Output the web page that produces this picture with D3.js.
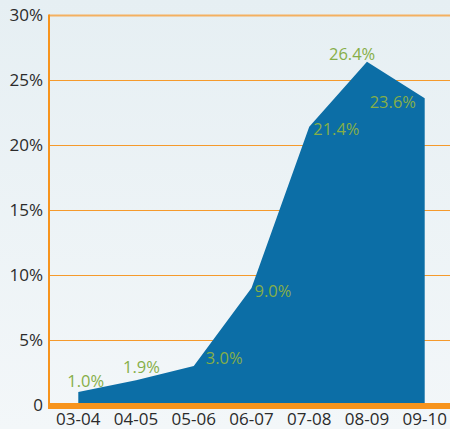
<!DOCTYPE html>
<html>
<head>
<meta charset="utf-8">
<script src="https://cdn.jsdelivr.net/npm/d3@7"></script>
<style>
  html, body { margin: 0; padding: 0; }
  body { width: 450px; height: 429px; overflow: hidden; }
  text { font-family: "Open Sans", sans-serif; }
</style>
</head>
<body>
<svg id="chart"></svg>
<script>
// chart values
var years = ["03-04", "04-05", "05-06", "06-07", "07-08", "08-09", "09-10"];
var shares = [1.0, 1.9, 3.0, 9.0, 21.4, 26.4, 23.6];
var yTicks = [0, 5, 10, 15, 20, 25, 30];
var yTickLabels = ["0", "5%", "10%", "15%", "20%", "25%", "30%"];

// where each value label sits relative to its point
var labelDx = [-11, -13, 12, 3, 4, -38, -55];
var labelDy = [-5, -7, -2, 9, 8, -2, 10];

var W = 450, H = 429;
var plotLeft = 49, plotTop = 15, plotBottom = 405;

var svg = d3.select("#chart").attr("width", W).attr("height", H);

var grad = svg.append("defs").append("linearGradient")
  .attr("id", "bg").attr("x1", 0).attr("y1", 0).attr("x2", 0).attr("y2", 1);
grad.append("stop").attr("offset", "0%").attr("stop-color", "#e6eff3");
grad.append("stop").attr("offset", "100%").attr("stop-color", "#f3f7f9");

svg.append("rect").attr("width", W).attr("height", H).attr("fill", "url(#bg)");

var x = d3.scalePoint().domain(years).range([78.3, 424.7]);
var y = d3.scaleLinear().domain([0, 30]).range([plotBottom, plotTop]);

// grid lines
svg.selectAll(".grid")
  .data(yTicks.filter(d => d > 0))
  .enter()
  .append("line")
  .attr("x1", plotLeft).attr("x2", W)
  .attr("y1", d => Math.round(y(d)) + 0.5).attr("y2", d => Math.round(y(d)) + 0.5)
  .attr("stroke", d => d == 30 ? "#f4b060" : "#f59a2c")
  .attr("stroke-width", d => d == 30 ? 2 : 1);

// area
var area = d3.area()
  .x((d, i) => x(years[i]))
  .y0(y(0) - 2)
  .y1(d => y(d));

svg.append("path")
  .datum(shares)
  .attr("d", area)
  .attr("fill", "#0c6ea6");

// y axis line
svg.append("line")
  .attr("x1", plotLeft).attr("x2", plotLeft)
  .attr("y1", y(30) - 0.5).attr("y2", y(0))
  .attr("stroke", "#f7941d").attr("stroke-width", 2);

// thick baseline
svg.append("rect")
  .attr("x", plotLeft - 1).attr("y", y(0) - 2)
  .attr("width", W - plotLeft + 1).attr("height", 6)
  .attr("fill", "#f7941d");

// y tick labels
svg.selectAll(".ylab")
  .data(yTicks)
  .enter()
  .append("text")
  .attr("x", 43)
  .attr("y", d => y(d))
  .attr("dy", "0.36em")
  .attr("text-anchor", "end")
  .attr("font-size", 17)
  .attr("fill", "#2b2b2b")
  .text((d, i) => yTickLabels[i]);

// x tick labels
svg.selectAll(".xlab")
  .data(years)
  .enter()
  .append("text")
  .attr("x", d => x(d))
  .attr("y", 425)
  .attr("text-anchor", "middle")
  .attr("font-size", 17)
  .attr("fill", "#2b2b2b")
  .text(d => d);

// value labels
svg.selectAll(".val")
  .data(shares)
  .enter()
  .append("text")
  .attr("x", (d, i) => x(years[i]) + labelDx[i])
  .attr("y", (d, i) => y(d) + labelDy[i])
  .attr("font-size", 16.5)
  .attr("fill", "#86ae48")
  .text(d => d.toFixed(1) + "%");
</script>
</body>
</html>
